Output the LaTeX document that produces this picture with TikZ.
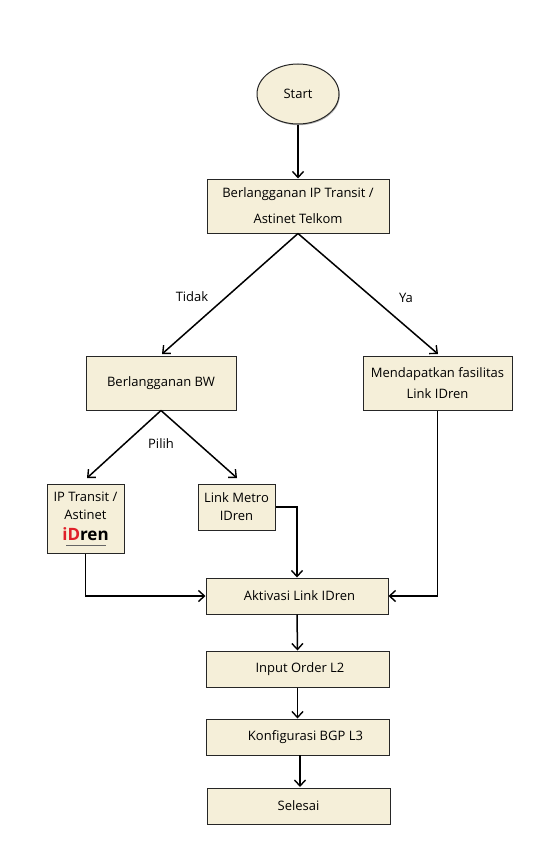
\documentclass[tikz,border=0pt]{standalone}
\usepackage{fontspec}
\setmainfont{Open Sans}
\usetikzlibrary{arrows.meta,shapes.geometric,shadows}
\definecolor{boxfill}{HTML}{F5EFD9}
\definecolor{idred}{HTML}{E0202A}
\tikzset{
  x=1pt,y=-1pt,
  boxbase/.style={draw=black!85,line width=1pt,fill=boxfill,inner sep=0pt,align=center,font=\fontsize{13}{26}\selectfont,
    drop shadow={shadow xshift=0.8pt,shadow yshift=-1.2pt,opacity=.3,fill=black}},
  flowbox/.style={boxbase,rectangle},
  startoval/.style={boxbase,ellipse},
  conn/.style={draw=black,line width=1.5pt,-{Straight Barb[length=6pt,width=11pt,line width=1.4pt]}},
  lbl/.style={font=\fontsize{13}{16}\selectfont,inner sep=0pt},
}
\newcommand{\bx}[6]{\node[#1,minimum width=#4pt,minimum height=#5pt] (#2) at (#3) {#6};}
\begin{document}
\begin{tikzpicture}
\useasboundingbox[fill=white] (0,0) rectangle (559,859);
\bx{startoval}{start}{298,94}{82}{60}{Start}
\bx{flowbox}{langgan}{298,206}{182}{54}{Berlangganan IP Transit /\\Astinet Telkom}
\bx{flowbox}{bw}{161,383}{150}{54}{Berlangganan BW}
\bx{flowbox,font=\fontsize{13}{21}\selectfont}{mend}{437.5,383}{149}{54}{Mendapatkan fasilitas\\Link IDren}
\node[flowbox,minimum width=77pt,minimum height=69pt] (ip) at (85.5,518.5) {};
\node[lbl,align=center,font=\fontsize{13}{18}\selectfont] (iptext) at (85.5,506) {IP Transit /\\Astinet};
\node[inner sep=0pt,font=\bfseries\fontsize{17}{17}\selectfont] (logo) at (85.5,534.5) {\textcolor{idred}{iD}ren};
\draw[black!60,line width=.6pt] (66,545.5) -- (106,545.5);
\bx{flowbox,font=\fontsize{13}{18}\selectfont}{metro}{236.5,507}{77}{46}{Link Metro\\IDren}
\bx{flowbox}{aktiv}{297,596}{182}{36}{\hspace*{5pt}Aktivasi Link IDren}
\bx{flowbox}{input}{297.5,669}{183}{36}{\hspace*{5pt}Input Order L2}
\bx{flowbox}{konf}{297.5,737}{183}{36}{\hspace*{16pt}Konfigurasi BGP L3}
\bx{flowbox}{selesai}{298.5,806}{183}{36}{Selesai}
\coordinate (ipin) at (87,478);
\coordinate (metroin) at (237,478);
\coordinate (bwin) at (162,354);
\coordinate (mendin) at (438,354);
\coordinate (konfout) at (300,755);
\coordinate (selin) at (300,787);
\draw[conn] (start.south) -- (langgan.north);
\draw[conn] (langgan.south) -- (bwin);
\draw[conn] (langgan.south) -- (mendin);
\draw[conn] (bw.south) -- (ipin);
\draw[conn] (bw.south) -- (metroin);
\draw[conn] (ip.south) |- (aktiv.west);
\draw[conn] (metro.east) -| (aktiv.north);
\draw[conn] (mend.south) |- (aktiv.east);
\draw[conn] (aktiv.south) -- (input.north);
\draw[conn] (input.south) -- (konf.north);
\draw[conn] (konfout) -- (selin);
\node[lbl] (tidak) at (192,297) {Tidak};
\node[lbl] (ya) at (406,298) {Ya};
\node[lbl] (pilih) at (161,444) {Pilih};
\end{tikzpicture}
\end{document}
